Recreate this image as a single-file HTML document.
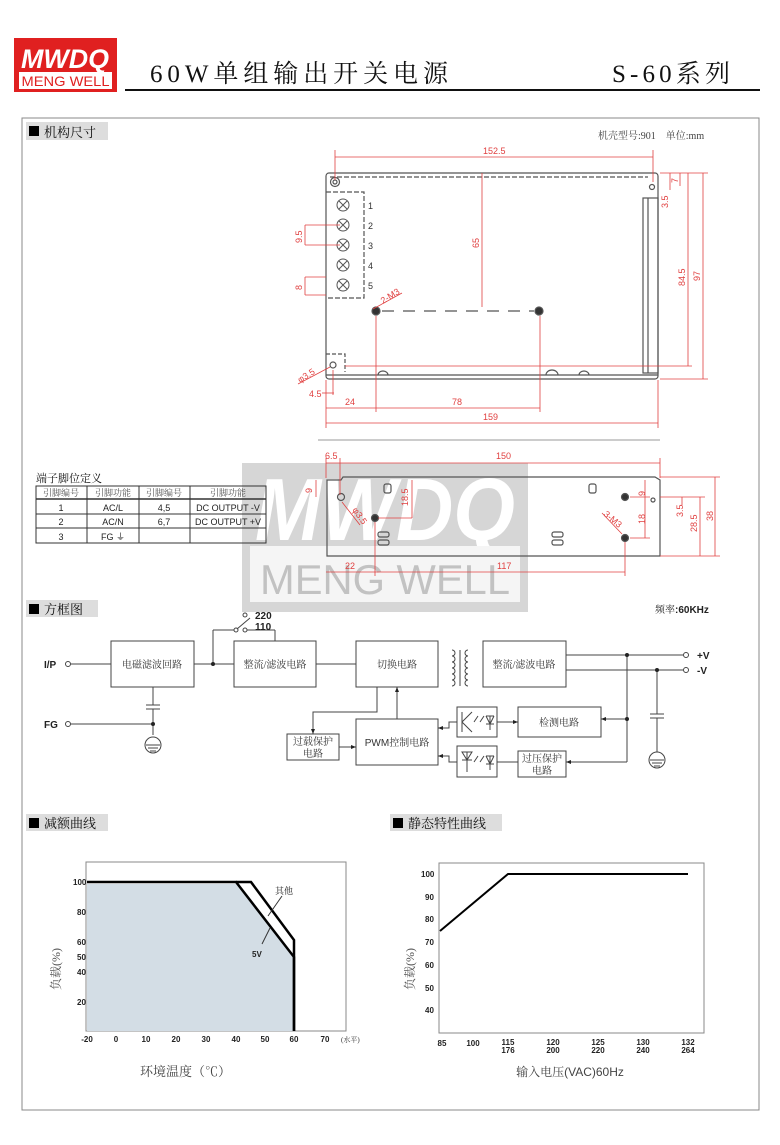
<!DOCTYPE html>
<html><head><meta charset="utf-8"><style>
html,body{margin:0;padding:0;background:#fff;}
svg{display:block;}
text{font-family:"Liberation Sans","Noto Sans CJK SC",sans-serif;}
.s{font-family:"Liberation Serif","Noto Serif CJK SC",serif;}
</style></head><body>
<svg width="780" height="1145" viewBox="0 0 780 1145" xmlns="http://www.w3.org/2000/svg">
<!-- header -->
<rect x="14" y="38" width="103" height="54" fill="#e02020"/>
<text x="65" y="68" font-size="27" font-style="italic" font-weight="bold" fill="#fff" text-anchor="middle" textLength="88" lengthAdjust="spacingAndGlyphs">MWDQ</text>
<rect x="19" y="72" width="93" height="17" fill="#fff"/>
<text x="65.5" y="86" font-size="14" fill="#e02020" text-anchor="middle" textLength="88" lengthAdjust="spacingAndGlyphs">MENG WELL</text>
<text class="s" x="150" y="82" font-size="25" fill="#111" textLength="298" lengthAdjust="spacing">60W单组输出开关电源</text>
<text class="s" x="612" y="82" font-size="25" fill="#111" textLength="118" lengthAdjust="spacing">S-60系列</text>
<line x1="125" y1="90" x2="760" y2="90" stroke="#111" stroke-width="2"/>
<!-- frame -->
<rect x="22" y="118" width="737" height="992" fill="none" stroke="#888" stroke-width="1"/>
<!-- section 1 -->
<rect x="26" y="122" width="82" height="18" fill="#ddd"/>
<rect x="29" y="126" width="10" height="10" fill="#000"/>
<text class="s" x="44" y="137" font-size="13" fill="#111">机构尺寸</text>
<text class="s" x="598" y="139" font-size="10" fill="#444">机壳型号:901　单位:mm</text>

<g stroke="#555" fill="none" stroke-width="1.2">
<rect x="326" y="173" width="332" height="206" rx="3"/>
<line x1="326" y1="375" x2="658" y2="375"/>
<path d="M330 177 H648" stroke-dasharray="5,2"/>
<rect x="643" y="198" width="15" height="175"/>
<line x1="648" y1="198" x2="648" y2="373"/>
<path d="M326 192 H364 V298 H326" stroke-dasharray="5,2"/>
<circle cx="335" cy="182" r="4.5"/><circle cx="335" cy="182" r="2"/>
<circle cx="333" cy="365" r="3"/>
<path d="M326 354 H345 V372" stroke-dasharray="4,2"/>
<circle cx="376" cy="311" r="4" fill="#333"/><circle cx="539" cy="311" r="4" fill="#333"/>
<path d="M382 311 H534" stroke-dasharray="12,9"/>
<path d="M378 375 a5 4 0 0 1 10 0 M546 375 a6 5 0 0 1 12 0 M579 375 a5 4 0 0 1 10 0"/>
<circle cx="652" cy="187" r="2.5"/>
</g>
<g stroke="#555" fill="none" stroke-width="1">
<circle cx="343" cy="205" r="6"/><path d="M339 201 l8 8 M347 201 l-8 8"/>
<circle cx="343" cy="225" r="6"/><path d="M339 221 l8 8 M347 221 l-8 8"/>
<circle cx="343" cy="245" r="6"/><path d="M339 241 l8 8 M347 241 l-8 8"/>
<circle cx="343" cy="265" r="6"/><path d="M339 261 l8 8 M347 261 l-8 8"/>
<circle cx="343" cy="285" r="6"/><path d="M339 281 l8 8 M347 281 l-8 8"/>
</g>
<g font-size="9" fill="#333"><text x="368" y="209">1</text><text x="368" y="229">2</text><text x="368" y="249">3</text><text x="368" y="269">4</text><text x="368" y="289">5</text></g>
<!-- red dims top -->
<g stroke="#e04040" stroke-width="0.8" fill="none">
<line x1="335" y1="157" x2="653" y2="157"/><line x1="335" y1="150" x2="335" y2="180"/><line x1="653" y1="150" x2="653" y2="182"/>
<line x1="326" y1="423" x2="658" y2="423"/><line x1="326" y1="380" x2="326" y2="428"/><line x1="658" y1="380" x2="658" y2="428"/>
<line x1="326" y1="408" x2="540" y2="408"/><line x1="376" y1="316" x2="376" y2="412"/><line x1="540" y1="316" x2="540" y2="412"/>
<line x1="482" y1="173" x2="482" y2="307"/>
<line x1="688" y1="173" x2="688" y2="366"/><line x1="703" y1="173" x2="703" y2="379"/>
<line x1="660" y1="173" x2="708" y2="173"/><line x1="660" y1="379" x2="708" y2="379"/><line x1="345" y1="366" x2="692" y2="366"/>
<line x1="305" y1="225" x2="305" y2="245"/><line x1="305" y1="225" x2="340" y2="225"/><line x1="305" y1="245" x2="340" y2="245"/>
<line x1="305" y1="277" x2="305" y2="295"/><line x1="305" y1="277" x2="326" y2="277"/><line x1="305" y1="295" x2="326" y2="295"/>
<line x1="373" y1="309" x2="402" y2="293"/><line x1="298" y1="384" x2="330" y2="367"/>
<line x1="322" y1="393" x2="334" y2="393"/><line x1="333" y1="370" x2="333" y2="395"/>
<line x1="670" y1="173" x2="670" y2="190"/><line x1="680" y1="173" x2="680" y2="186"/>
</g>
<g font-size="9" fill="#e04040">
<text x="483" y="154">152.5</text><text x="483" y="420">159</text><text x="345" y="405">24</text><text x="452" y="405">78</text>
<text x="309" y="397">4.5</text>
<text x="479" y="248" transform="rotate(-90 479 248)">65</text>
<text x="685" y="286" transform="rotate(-90 685 286)">84.5</text>
<text x="700" y="281" transform="rotate(-90 700 281)">97</text>
<text x="302" y="243" transform="rotate(-90 302 243)">9.5</text>
<text x="302" y="290" transform="rotate(-90 302 290)">8</text>
<text x="678" y="183" transform="rotate(-90 678 183)">7</text>
<text x="668" y="208" transform="rotate(-90 668 208)">3.5</text>
<text x="383" y="304" transform="rotate(-32 383 304)">2-M3</text>
<text x="300" y="383" transform="rotate(-32 300 383)">φ3.5</text>
</g>
<line x1="318" y1="440" x2="660" y2="440" stroke="#999" stroke-width="1"/>

<!-- watermark -->
<g opacity="0.85">
<rect x="242" y="463" width="286" height="149" fill="#cfcfcf"/>
<text x="385" y="540" font-size="88" font-style="italic" font-weight="bold" fill="#fff" text-anchor="middle" textLength="260" lengthAdjust="spacingAndGlyphs">MWDQ</text>
<rect x="250" y="546" width="270" height="56" fill="#f4f4f4"/>
<text x="385" y="594" font-size="42" fill="#b8b8b8" text-anchor="middle" textLength="250" lengthAdjust="spacingAndGlyphs">MENG WELL</text>
</g>
<!-- side view -->
<g stroke="#555" fill="none" stroke-width="1.2">
<path d="M327 480 H341 L343 477 H655 L660 480 V556 H327 Z"/>
<circle cx="341" cy="497" r="3.5"/><circle cx="375" cy="518" r="3.5" fill="#333"/>
<circle cx="625" cy="497" r="3.5" fill="#333"/><circle cx="625" cy="538" r="3.5" fill="#333"/>
<rect x="384" y="484" width="7" height="9" rx="2"/><rect x="589" y="484" width="7" height="9" rx="2"/>
<rect x="378" y="532" width="11" height="5" rx="2"/><rect x="378" y="540" width="11" height="5" rx="2"/>
<rect x="552" y="532" width="11" height="5" rx="2"/><rect x="552" y="540" width="11" height="5" rx="2"/>
<circle cx="653" cy="500" r="2"/>
</g>
<g stroke="#e04040" stroke-width="0.8" fill="none">
<line x1="326" y1="463" x2="660" y2="463"/><line x1="340" y1="458" x2="340" y2="495"/><line x1="326" y1="458" x2="326" y2="478"/><line x1="660" y1="458" x2="660" y2="478"/>
<line x1="326" y1="572" x2="625" y2="572"/><line x1="375" y1="522" x2="375" y2="576"/><line x1="625" y1="542" x2="625" y2="576"/>
<line x1="412" y1="480" x2="412" y2="518"/><line x1="378" y1="518" x2="412" y2="518"/>
<line x1="630" y1="497" x2="650" y2="497"/><line x1="630" y1="538" x2="650" y2="538"/><line x1="645" y1="480" x2="645" y2="538"/>
<line x1="715" y1="477" x2="715" y2="556"/><line x1="700" y1="497" x2="700" y2="556"/><line x1="682" y1="497" x2="682" y2="505"/>
<line x1="660" y1="477" x2="720" y2="477"/><line x1="660" y1="556" x2="720" y2="556"/><line x1="660" y1="497" x2="705" y2="497"/>
<line x1="316" y1="480" x2="316" y2="497"/>
<line x1="342" y1="502" x2="360" y2="525"/><line x1="602" y1="513" x2="622" y2="534"/>
</g>
<g font-size="9" fill="#e04040">
<text x="325" y="459">6.5</text><text x="496" y="459">150</text><text x="345" y="569">22</text><text x="497" y="569">117</text>
<text x="312" y="493" transform="rotate(-90 312 493)">9</text>
<text x="408" y="506" transform="rotate(-90 408 506)">18.5</text>
<text x="645" y="496" transform="rotate(-90 645 496)">9</text>
<text x="645" y="524" transform="rotate(-90 645 524)">18</text>
<text x="683" y="517" transform="rotate(-90 683 517)">3.5</text>
<text x="697" y="532" transform="rotate(-90 697 532)">28.5</text>
<text x="713" y="521" transform="rotate(-90 713 521)">38</text>
<text x="352" y="510" transform="rotate(55 352 510)">φ3.5</text>
<text x="603" y="515" transform="rotate(40 603 515)">3-M3</text>
</g>
<!-- table -->
<text class="s" x="36" y="482" font-size="11" fill="#111">端子脚位定义</text>
<g stroke="#333" fill="none" stroke-width="1">
<rect x="36" y="486" width="230" height="57"/>
<line x1="36" y1="499" x2="266" y2="499" stroke-width="1.5"/><line x1="36" y1="514" x2="266" y2="514"/><line x1="36" y1="528" x2="266" y2="528"/>
<line x1="87" y1="486" x2="87" y2="543"/><line x1="139" y1="486" x2="139" y2="543"/><line x1="190" y1="486" x2="190" y2="543"/>
</g>
<g font-size="9" fill="#222" text-anchor="middle">
<text class="s" x="61" y="496" fill="#555">引脚编号</text><text class="s" x="113" y="496" fill="#555">引脚功能</text><text class="s" x="164" y="496" fill="#555">引脚编号</text><text class="s" x="228" y="496" fill="#555">引脚功能</text>
<text x="61" y="511">1</text><text x="113" y="511">AC/L</text><text x="164" y="511">4,5</text><text x="228" y="511">DC OUTPUT -V</text>
<text x="61" y="525">2</text><text x="113" y="525">AC/N</text><text x="164" y="525">6,7</text><text x="228" y="525">DC OUTPUT +V</text>
<text x="61" y="540">3</text><text x="113" y="540">FG ⏚</text>
</g>

<!-- block diagram -->
<rect x="26" y="600" width="72" height="17" fill="#ddd"/>
<rect x="29" y="604" width="10" height="10" fill="#000"/>
<text class="s" x="44" y="614" font-size="13" fill="#111">方框图</text>
<text x="655" y="613" font-size="10" font-weight="bold" fill="#222"><tspan class="s" font-weight="normal">频率</tspan>:60KHz</text>
<g stroke="#444" fill="none" stroke-width="1">
<rect x="111" y="641" width="83" height="46"/><rect x="234" y="641" width="82" height="46"/>
<rect x="356" y="641" width="82" height="46"/><rect x="483" y="641" width="83" height="46"/>
<rect x="356" y="719" width="82" height="46"/><rect x="287" y="734" width="52" height="26"/>
<rect x="518" y="707" width="83" height="30"/><rect x="518" y="751" width="48" height="26"/>
<rect x="457" y="707" width="40" height="30"/><rect x="457" y="746" width="40" height="31"/>
<circle cx="68" cy="664" r="2.5"/><circle cx="68" cy="724" r="2.5"/>
<circle cx="686" cy="655" r="2.5"/><circle cx="686" cy="670" r="2.5"/>
<line x1="71" y1="664" x2="111" y2="664"/><line x1="194" y1="664" x2="234" y2="664"/>
<line x1="316" y1="664" x2="356" y2="664"/>
<line x1="213" y1="664" x2="213" y2="630"/><line x1="213" y1="630" x2="234" y2="630"/>
<circle cx="236" cy="630" r="2"/><circle cx="245" cy="630" r="2"/><circle cx="245" cy="615" r="2"/>
<line x1="237" y1="629" x2="250" y2="618"/><line x1="247" y1="630" x2="275" y2="630"/><line x1="275" y1="630" x2="275" y2="641"/>
<line x1="71" y1="724" x2="153" y2="724"/><line x1="153" y1="687" x2="153" y2="705"/><line x1="146" y1="705" x2="160" y2="705"/><line x1="146" y1="709" x2="160" y2="709"/><line x1="153" y1="709" x2="153" y2="735"/>
<circle cx="153" cy="745" r="8"/><path d="M146 745 H160 M148 748 H158 M150 751 H156"/>
<path d="M452 650 a3 3 0 0 1 0 6 a3 3 0 0 1 0 6 a3 3 0 0 1 0 6 a3 3 0 0 1 0 6 a3 3 0 0 1 0 6 a3 3 0 0 1 0 6"/>
<path d="M468 650 a3 3 0 0 0 0 6 a3 3 0 0 0 0 6 a3 3 0 0 0 0 6 a3 3 0 0 0 0 6 a3 3 0 0 0 0 6 a3 3 0 0 0 0 6"/>
<line x1="460" y1="650" x2="460" y2="686"/>
<line x1="566" y1="655" x2="683" y2="655"/><line x1="566" y1="670" x2="683" y2="670"/>
<line x1="627" y1="655" x2="627" y2="762"/><line x1="601" y1="719" x2="627" y2="719"/><line x1="566" y1="762" x2="627" y2="762"/>
<line x1="657" y1="670" x2="657" y2="714"/><line x1="650" y1="714" x2="664" y2="714"/><line x1="650" y1="718" x2="664" y2="718"/><line x1="657" y1="718" x2="657" y2="752"/>
<circle cx="657" cy="760" r="8"/><path d="M650 760 H664 M652 763 H662 M654 766 H660"/>
<line x1="497" y1="722" x2="518" y2="722"/><line x1="497" y1="762" x2="518" y2="762"/>
<path d="M457 722 H449 V728 H438"/><path d="M457 762 H449 V756 H438"/>
<line x1="397" y1="719" x2="397" y2="687"/>
<path d="M377 687 V712 H313 V734"/>
<line x1="339" y1="747" x2="356" y2="747"/>
<path d="M462 712 V732 M462 722 L472 712 M462 722 L472 732 M478 716 l-4 6 M484 716 l-4 6 M486 716 H494 M490 716 V730 M486 716 L490 724 L494 716 M486 724 H494"/>
<path d="M462 752 H472 L467 760 Z M462 760 H472 M467 752 V772 M478 756 l-4 6 M484 756 l-4 6 M486 756 H494 M490 756 V770 M486 756 L490 764 L494 756 M486 764 H494"/>
</g>
<g fill="#222"><circle cx="213" cy="664" r="2"/><circle cx="153" cy="724" r="2"/><circle cx="627" cy="655" r="2"/><circle cx="627" cy="719" r="2"/><circle cx="657" cy="670" r="2"/>
<path d="M438 728 l5 -2 v4z M438 756 l5 -2 v4z M397 687 l-2 5 h4z M313 734 l-2 -5 h4z M356 747 l-5 -2 v4z M518 722 l-5 -2 v4z M601 719 l5 -2 v4z M566 762 l5 -2 v4z"/></g>
<g font-size="10" fill="#222">
<text x="44" y="668" font-weight="bold">I/P</text><text x="44" y="728" font-weight="bold">FG</text>
<text x="697" y="659" font-weight="bold">+V</text><text x="697" y="674" font-weight="bold">-V</text>
<text x="255" y="619" font-weight="bold">220</text><text x="255" y="630" font-weight="bold">110</text>
</g>
<g class="s" font-size="10" fill="#333" text-anchor="middle">
<text class="s" x="152" y="668">电磁滤波回路</text><text class="s" x="275" y="668">整流/滤波电路</text>
<text class="s" x="397" y="668">切换电路</text><text class="s" x="524" y="668">整流/滤波电路</text>
<text class="s" x="397" y="746"><tspan font-family="Liberation Sans">PWM</tspan>控制电路</text>
<text class="s" x="313" y="745">过载保护</text><text class="s" x="313" y="757">电路</text>
<text class="s" x="559" y="726">检测电路</text>
<text class="s" x="542" y="762">过压保护</text><text class="s" x="542" y="774">电路</text>
</g>

<!-- derating -->
<rect x="26" y="814" width="82" height="17" fill="#ddd"/>
<rect x="29" y="818" width="10" height="10" fill="#000"/>
<text class="s" x="44" y="828" font-size="13" fill="#111">减额曲线</text>
<rect x="86" y="862" width="260" height="169" fill="none" stroke="#888"/>
<polygon points="87,884 236,884 294,957 294,1031 87,1031" fill="#d3dde5"/>
<polyline points="87,882 236,882 294,957 294,1031" fill="none" stroke="#000" stroke-width="2.5"/>
<polyline points="236,882 251,882 294,940 294,1031" fill="none" stroke="#000" stroke-width="2.5"/>
<line x1="268" y1="916" x2="282" y2="896" stroke="#333"/><line x1="262" y1="944" x2="270" y2="928" stroke="#333"/>
<g font-size="8" fill="#222" font-weight="bold">
<text x="73" y="885">100</text><text x="77" y="915">80</text><text x="77" y="945">60</text><text x="77" y="960">50</text><text x="77" y="975">40</text><text x="77" y="1005">20</text>
<g text-anchor="middle"><text x="87" y="1042">-20</text><text x="116" y="1042">0</text><text x="146" y="1042">10</text><text x="176" y="1042">20</text><text x="206" y="1042">30</text><text x="236" y="1042">40</text><text x="265" y="1042">50</text><text x="294" y="1042">60</text><text x="325" y="1042">70</text></g>
<text x="252" y="957">5V</text>
</g>
<text class="s" x="275" y="894" font-size="9" fill="#222">其他</text>
<text class="s" x="341" y="1042" font-size="7" fill="#333">(水平)</text>
<text class="s" x="140" y="1076" font-size="13" fill="#444">环境温度（℃）</text>
<text class="s" x="60" y="990" font-size="12" fill="#555" transform="rotate(-90 60 990)">负载(%)</text>

<!-- static -->
<rect x="390" y="814" width="112" height="17" fill="#ddd"/>
<rect x="393" y="818" width="10" height="10" fill="#000"/>
<text class="s" x="408" y="828" font-size="13" fill="#111">静态特性曲线</text>
<rect x="439" y="863" width="265" height="170" fill="none" stroke="#888"/>
<polyline points="440,931 508,874 688,874" fill="none" stroke="#000" stroke-width="2"/>
<g font-size="8" fill="#222" font-weight="bold">
<text x="421" y="877">100</text><text x="425" y="900">90</text><text x="425" y="922">80</text><text x="425" y="945">70</text><text x="425" y="968">60</text><text x="425" y="991">50</text><text x="425" y="1013">40</text>
<g text-anchor="middle"><text x="442" y="1046">85</text><text x="473" y="1046">100</text><text x="508" y="1045">115</text><text x="508" y="1053">176</text><text x="553" y="1045">120</text><text x="553" y="1053">200</text><text x="598" y="1045">125</text><text x="598" y="1053">220</text><text x="643" y="1045">130</text><text x="643" y="1053">240</text><text x="688" y="1045">132</text><text x="688" y="1053">264</text></g>
</g>
<text x="570" y="1076" font-size="12" fill="#444" text-anchor="middle"><tspan class="s">输入电压</tspan>(VAC)60Hz</text>
<text class="s" x="414" y="990" font-size="12" fill="#555" transform="rotate(-90 414 990)">负载(%)</text>
</svg>
</body></html>
